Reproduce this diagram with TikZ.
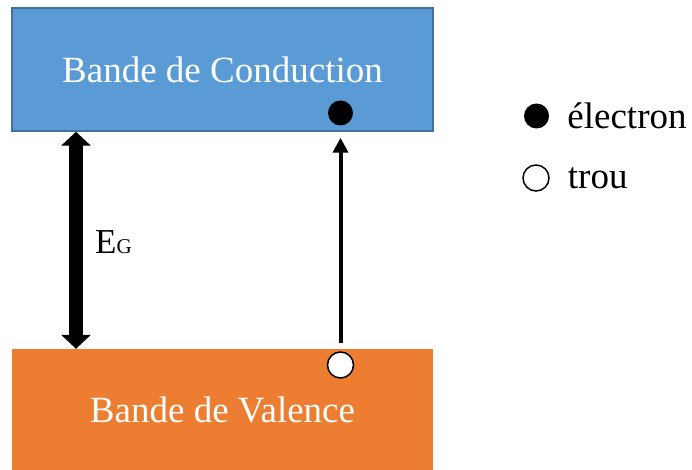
\documentclass[tikz,border=0pt]{standalone}
\usepackage{fontspec}
\setmainfont{Liberation Serif}
\usetikzlibrary{positioning,arrows.meta}
\definecolor{cond}{HTML}{5B9BD5}
\definecolor{condl}{HTML}{41719C}
\definecolor{val}{HTML}{ED7D31}
\tikzset{
  band/.style={minimum width=421pt, inner sep=0pt, text=white, align=center},
  elec/.style={circle, fill=black, minimum size=25pt, inner sep=0pt},
  hole/.style={circle, draw=black, line width=1.5pt, fill=white, minimum size=26pt, inner sep=0pt},
  gaparr/.style={line width=14pt, {Triangle[width=29pt,length=14pt]}-{Triangle[width=29pt,length=14pt]}},
  excarr/.style={line width=4pt, -{Triangle[width=15pt,length=15pt]}}}

\begin{document}
\begin{tikzpicture}[x=1pt, y=-1pt, font=\fontsize{37}{44}\selectfont, node distance=0pt]
\useasboundingbox (0,0) rectangle (692,470);
\node[band, fill=cond, draw=condl, line width=1.5pt, minimum height=123pt] (bc) at (222.5,69.5) {Bande de Conduction};
\begin{scope}
\clip (0,0) rectangle (692,470);
\node[band, fill=val, minimum height=122pt] (bv) at (222.5,410) {Bande de Valence};
\end{scope}
\node[elec] (e1) at (340.5,113) {};
\node[hole] (h1) at (340.5,365) {};
\coordinate (gx) at (76,0);
\draw[gaparr] (bc.south -| gx) -- (bv.north -| gx);
\draw[excarr, shorten <=8pt, shorten >=6pt] (h1.north) -- (bc.south -| h1.north);
\node[anchor=base west, inner sep=0pt] (eg) at (95,253) {\fontsize{35}{40}\selectfont E\fontsize{21}{24}\selectfont G};
% legende
\node[elec] (le) at (536.5,116) {};
\node[hole] (lh) at (536,178) {};
\node[right=18pt of le, inner sep=0pt] (lte) {électron};
\node[right=18pt of lh, inner sep=0pt] (lth) {trou};
\end{tikzpicture}
\end{document}
